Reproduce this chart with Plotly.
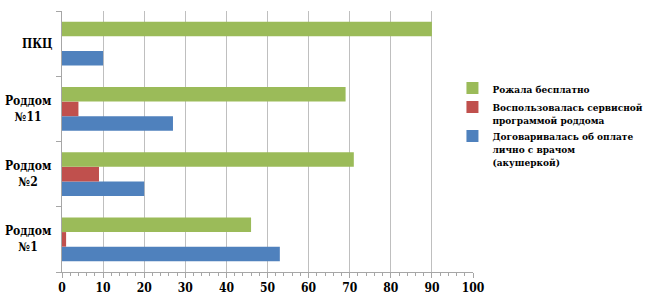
import plotly.graph_objects as go

categories = ["Роддом<br>№1", "Роддом<br>№2", "Роддом<br>№11", "ПКЦ"]
series_names = [
    "Договаривалась об оплате<br>лично с врачом<br>(акушеркой)",
    "Воспользовалась сервисной<br>программой роддома",
    "Рожала бесплатно",
]
blue_vals = [53, 20, 27, 10]
red_vals = [1, 9, 4, 0]
green_vals = [46, 71, 69, 90]
colors = ["#4F81BD", "#C0504D", "#9BBB59"]
x_ticks = list(range(0, 101, 10))

font_family = "DejaVu Serif Condensed, DejaVu Serif"

fig = go.Figure()
for name, vals, col in zip(series_names, [blue_vals, red_vals, green_vals], colors):
    fig.add_trace(go.Bar(
        y=categories, x=vals, name=name, orientation="h",
        marker=dict(color=col, line=dict(width=0)),
    ))

for cat in categories:
    fig.add_annotation(
        x=0, xref="paper", y=cat, yref="y", text="<b>%s</b>" % cat,
        xanchor="right", xshift=-8, showarrow=False, align="center",
        font=dict(family=font_family, size=12, color="black"),
    )

fig.update_layout(
    width=650, height=300,
    margin=dict(l=62, r=177, t=11, b=28, autoexpand=False),
    paper_bgcolor="white", plot_bgcolor="white",
    barmode="group", bargap=0.33, bargroupgap=0,
    font=dict(family=font_family, size=11, color="black"),
    legend=dict(
        traceorder="reversed", x=0.95, xanchor="left", y=0.755, yanchor="top",
        font=dict(family=font_family, size=10, color="black", weight="bold"),
        valign="top", itemwidth=30,
    ),
    xaxis=dict(
        range=[0, 100], tickvals=x_ticks, ticktext=["<b>%d</b>" % v for v in x_ticks],
        showgrid=True, gridcolor="#BFBFBF", gridwidth=1,
        showline=True, linecolor="#A6A6A6", linewidth=1,
        ticks="outside", ticklen=5, tickcolor="#A6A6A6",
        minor=dict(ticks="outside", ticklen=3, dtick=2, tickcolor="#A6A6A6", showgrid=False),
        tickfont=dict(family=font_family, size=12, color="black"),
        zeroline=False, fixedrange=True,
    ),
    yaxis=dict(
        showticklabels=False, showgrid=False,
        showline=True, linecolor="#A6A6A6", linewidth=1,
        ticks="outside", ticklen=5, tickcolor="#A6A6A6", tickson="boundaries",
        zeroline=False, fixedrange=True,
    ),
)

fig.write_html("out.html")
